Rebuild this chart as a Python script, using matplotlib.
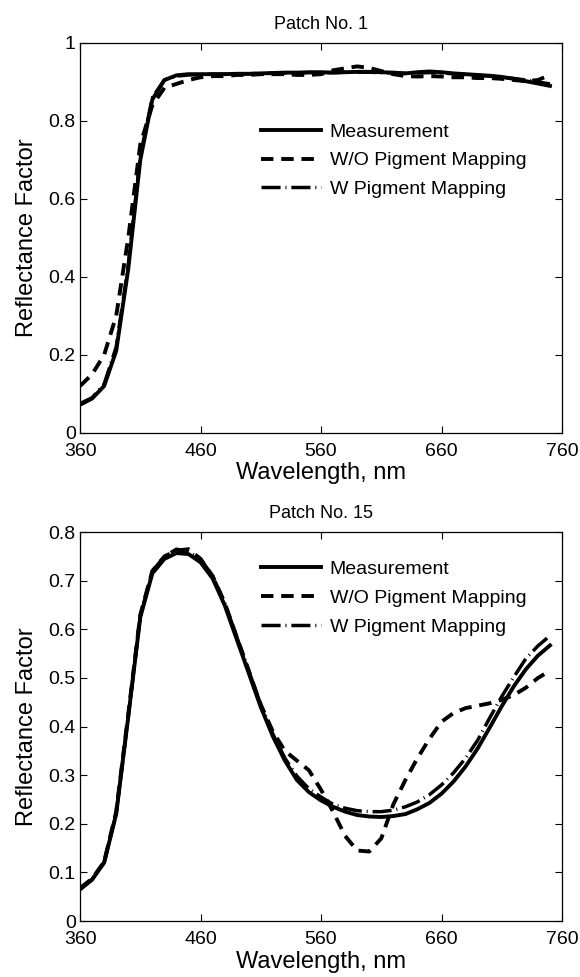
import matplotlib
matplotlib.use("Agg")
from matplotlib import pyplot as plt
import numpy as np

plt.rcParams["font.family"] = ["Liberation Sans", "DejaVu Sans"]

wavelength = np.arange(360, 760, 10)

# Patch No. 1
p1_measured = [0.072, 0.088, 0.120, 0.210, 0.420, 0.700, 0.855, 0.905, 0.917, 0.920,
               0.920, 0.920, 0.920, 0.921, 0.921, 0.922, 0.923, 0.924, 0.924, 0.925,
               0.925, 0.924, 0.925, 0.926, 0.926, 0.925, 0.924, 0.922, 0.925, 0.927,
               0.925, 0.922, 0.920, 0.918, 0.916, 0.913, 0.908, 0.902, 0.896, 0.890]
p1_without = [0.120, 0.150, 0.200, 0.300, 0.500, 0.740, 0.840, 0.885, 0.895, 0.905,
              0.912, 0.915, 0.915, 0.918, 0.918, 0.920, 0.920, 0.920, 0.918, 0.918,
              0.920, 0.930, 0.935, 0.940, 0.936, 0.928, 0.920, 0.915, 0.914, 0.915,
              0.914, 0.912, 0.912, 0.910, 0.910, 0.908, 0.905, 0.902, 0.905, 0.918]
p1_with = [0.075, 0.090, 0.125, 0.220, 0.430, 0.710, 0.860, 0.905, 0.915, 0.918,
           0.919, 0.920, 0.920, 0.920, 0.921, 0.922, 0.922, 0.923, 0.923, 0.924,
           0.924, 0.924, 0.925, 0.925, 0.925, 0.924, 0.923, 0.922, 0.923, 0.924,
           0.923, 0.921, 0.919, 0.917, 0.915, 0.912, 0.909, 0.905, 0.900, 0.895]

# Patch No. 15
p15_measured = [0.065, 0.085, 0.120, 0.220, 0.420, 0.625, 0.715, 0.745, 0.757, 0.755,
                0.738, 0.705, 0.650, 0.580, 0.510, 0.440, 0.380, 0.330, 0.290, 0.265,
                0.248, 0.235, 0.225, 0.218, 0.215, 0.214, 0.216, 0.220, 0.230, 0.243,
                0.262, 0.287, 0.318, 0.355, 0.398, 0.442, 0.483, 0.518, 0.546, 0.567]
p15_without = [0.068, 0.087, 0.122, 0.225, 0.425, 0.630, 0.720, 0.750, 0.762, 0.765,
               0.745, 0.710, 0.655, 0.585, 0.515, 0.445, 0.390, 0.350, 0.330, 0.310,
               0.270, 0.225, 0.175, 0.145, 0.143, 0.170, 0.240, 0.290, 0.335, 0.375,
               0.410, 0.428, 0.438, 0.443, 0.448, 0.455, 0.465, 0.480, 0.500, 0.515]
p15_with = [0.066, 0.086, 0.121, 0.222, 0.420, 0.628, 0.720, 0.750, 0.765, 0.760,
            0.745, 0.710, 0.655, 0.585, 0.515, 0.445, 0.385, 0.335, 0.298, 0.272,
            0.255, 0.240, 0.232, 0.227, 0.225, 0.225, 0.228, 0.235, 0.245, 0.260,
            0.280, 0.305, 0.335, 0.372, 0.418, 0.462, 0.502, 0.540, 0.566, 0.587]

labels = ["Measurement", "W/O Pigment Mapping", "W Pigment Mapping"]
xticks = [360, 460, 560, 660, 760]

fig = plt.figure(figsize=(5.8, 9.77), dpi=100)
ax1 = fig.add_axes([0.138, 0.557, 0.831, 0.399])
ax2 = fig.add_axes([0.138, 0.0573, 0.831, 0.398])


def draw(ax, meas, wo, w, title, ymax, yticks, ytlabels, leg_anchor):
    ax.plot(wavelength, meas, color="black", linewidth=2.8, label=labels[0])
    ax.plot(wavelength, wo, color="black", linewidth=2.8, dashes=(3.2, 2.0), label=labels[1])
    ax.plot(wavelength, w, color="black", linewidth=2.5, dashes=(5.5, 1.4, 0.3, 1.4), label=labels[2])
    ax.set_xlim(360, 760)
    ax.set_ylim(0, ymax)
    ax.set_xticks(xticks)
    ax.set_xticklabels([str(v) for v in xticks])
    ax.set_yticks(yticks)
    ax.set_yticklabels(ytlabels)
    ax.tick_params(direction="in", length=5, width=0.8, top=True, right=True, labelsize=14)
    ax.tick_params(axis="x", pad=7)
    ax.tick_params(axis="y", pad=3)
    for s in ax.spines.values():
        s.set_linewidth(0.9)
    ax.set_title(title, fontsize=13, pad=10)
    ax.set_xlabel("Wavelength, nm", fontsize=17, labelpad=2)
    ax.set_ylabel("Reflectance Factor", fontsize=17, labelpad=8)
    ax.legend(loc="upper left", bbox_to_anchor=leg_anchor, frameon=False, fontsize=14,
              handlelength=3.1, handletextpad=0.45, labelspacing=0.58,
              borderpad=0, borderaxespad=0)


draw(ax1, p1_measured, p1_without, p1_with, "Patch No. 1", 1,
     [0, 0.2, 0.4, 0.6, 0.8, 1], ["0", "0.2", "0.4", "0.6", "0.8", "1"], (0.375, 0.795))
draw(ax2, p15_measured, p15_without, p15_with, "Patch No. 15", 0.8,
     [0, 0.1, 0.2, 0.3, 0.4, 0.5, 0.6, 0.7, 0.8],
     ["0", "0.1", "0.2", "0.3", "0.4", "0.5", "0.6", "0.7", "0.8"], (0.375, 0.928))

fig.savefig("out.png", dpi=100)
